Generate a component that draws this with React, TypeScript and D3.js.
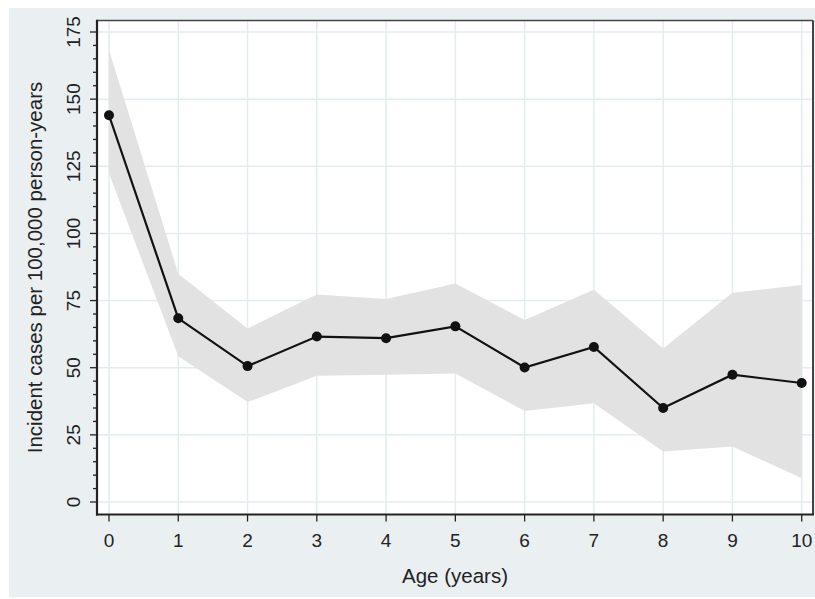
import React from "react";
import * as d3 from "d3";

// Incidence by age with 95% confidence band
const ages = [0, 1, 2, 3, 4, 5, 6, 7, 8, 9, 10];
const incidence = [144, 68.4, 50.6, 61.6, 61.0, 65.4, 50.1, 57.7, 35.0, 47.4, 44.3];
const lowerCI = [122.3, 54.3, 37.2, 47.0, 47.4, 47.8, 33.9, 36.8, 18.8, 20.7, 8.8];
const upperCI = [168.3, 85.0, 64.6, 77.3, 75.6, 81.4, 67.8, 79.0, 57.2, 77.9, 80.8];
const yTicks = [0, 25, 50, 75, 100, 125, 150, 175];
const xTicks = [0, 1, 2, 3, 4, 5, 6, 7, 8, 9, 10];
const yMinorTicks = d3.range(0, 176, 5);

const W = 815;
const H = 599;
const FONT = "'Liberation Sans', Arial, sans-serif";

export default function App() {
  const x = d3.scaleLinear().domain([0, 10]).range([109, 801.7]);
  const y = d3.scaleLinear().domain([0, 175]).range([502, 32]);

  const plot = { left: 97, right: 813, top: 20.5, bottom: 514.5 };

  const rows = ages.map((a, i) => ({ a, v: incidence[i], lo: lowerCI[i], hi: upperCI[i] }));

  const band = d3
    .area<(typeof rows)[number]>()
    .x((d) => x(d.a))
    .y0((d) => y(d.lo))
    .y1((d) => y(d.hi))(rows) as string;

  const line = d3
    .line<(typeof rows)[number]>()
    .x((d) => x(d.a))
    .y((d) => y(d.v))(rows) as string;

  const gridColor = "#e5ecef";
  const axisColor = "#222";

  return (
    <svg
      width={W}
      height={H}
      style={{ position: "absolute", left: 0, top: 0 }}
      fontFamily={FONT}
    >
      <rect x={0} y={0} width={W} height={H} fill="#ffffff" />
      <rect x={9} y={8} width={W - 9} height={589} fill="#eaf0f2" />

      {/* plot region */}
      <rect
        x={plot.left}
        y={plot.top}
        width={plot.right - plot.left}
        height={plot.bottom - plot.top}
        fill="#ffffff"
      />

      {/* grid */}
      {yTicks.map((t) => (
        <line
          key={"gy" + t}
          x1={plot.left}
          x2={plot.right}
          y1={y(t)}
          y2={y(t)}
          stroke={gridColor}
          strokeWidth={1.5}
        />
      ))}
      {xTicks.map((t) => (
        <line
          key={"gx" + t}
          x1={x(t)}
          x2={x(t)}
          y1={plot.top}
          y2={plot.bottom}
          stroke={gridColor}
          strokeWidth={1.5}
        />
      ))}

      {/* confidence band */}
      <path d={band} fill="#e2e2e2" stroke="none" />

      {/* estimate line and points */}
      <path d={line} fill="none" stroke="#111" strokeWidth={2.2} />
      {rows.map((d) => (
        <circle key={"p" + d.a} cx={x(d.a)} cy={y(d.v)} r={5} fill="#111" />
      ))}

      {/* frame */}
      <line x1={plot.left} x2={plot.right} y1={plot.top} y2={plot.top} stroke="#444" strokeWidth={1.5} />
      <line x1={plot.right} x2={plot.right} y1={plot.top} y2={plot.bottom} stroke="#444" strokeWidth={2} />
      <line x1={plot.left} x2={plot.left} y1={plot.top - 0.75} y2={plot.bottom + 1} stroke={axisColor} strokeWidth={2.2} />
      <line x1={plot.left - 1} x2={plot.right + 1} y1={plot.bottom} y2={plot.bottom} stroke={axisColor} strokeWidth={2.2} />

      {/* y ticks */}
      {yMinorTicks.map((t) => (
        <line
          key={"ym" + t}
          x1={t % 25 === 0 ? plot.left - 7 : plot.left - 4}
          x2={plot.left}
          y1={y(t)}
          y2={y(t)}
          stroke={axisColor}
          strokeWidth={1.3}
        />
      ))}
      {yTicks.map((t) => (
        <text
          key={"yl" + t}
          transform={`translate(80,${y(t)}) rotate(-90)`}
          textAnchor="middle"
          fontSize={19}
          fill="#222"
        >
          {t}
        </text>
      ))}

      {/* x ticks */}
      {xTicks.map((t) => (
        <g key={"xt" + t}>
          <line x1={x(t)} x2={x(t)} y1={plot.bottom} y2={plot.bottom + 7} stroke={axisColor} strokeWidth={1.3} />
          <text x={x(t)} y={547} textAnchor="middle" fontSize={19} fill="#222">
            {t}
          </text>
        </g>
      ))}

      {/* axis titles */}
      <text x={455} y={583} textAnchor="middle" fontSize={20.5} fill="#222">
        Age (years)
      </text>
      <text
        transform={`translate(42,267.5) rotate(-90)`}
        textAnchor="middle"
        fontSize={20.5}
        fill="#222"
      >
        Incident cases per 100,000 person-years
      </text>
    </svg>
  );
}
